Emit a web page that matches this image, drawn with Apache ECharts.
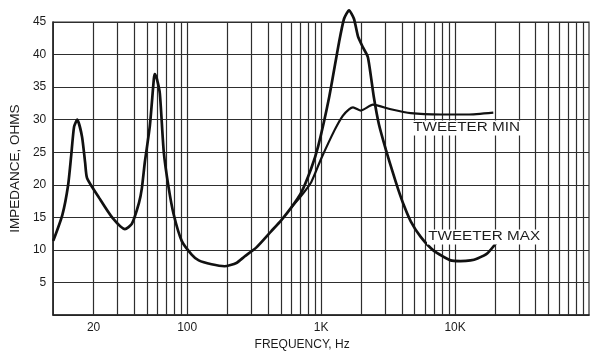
<!DOCTYPE html>
<html>
<head>
<meta charset="utf-8">
<script src="https://cdn.jsdelivr.net/npm/echarts@6/dist/echarts.min.js"></script>
<style>
html,body{margin:0;padding:0;background:#fff;}
#chart{width:591px;height:356px;}
</style>
</head>
<body>
<div id="chart"></div>
<script>
// Frequency (Hz) and impedance (ohms)
const freqMax = [10, 11.7, 12.9, 13.6, 14.3, 15.1, 16.4, 17.3, 17.9, 22, 27.5, 34.3, 38.6, 43.6, 45.9, 48.3, 52.6, 56.4, 57.3, 59.3, 62.5, 66.9, 72.8, 79.4, 91, 108, 122, 152, 190, 233, 268, 329, 425, 505, 598, 710, 843, 950, 1147, 1361, 1483, 1615, 1758, 1884, 2053, 2235, 2478, 2700, 3043, 3428, 3734, 4140, 4668, 5540, 6918, 9267, 11000, 13040, 14700, 17450, 20700];
const impMax = [11.4, 15.4, 19.9, 24.4, 28.9, 30.0, 27.4, 23.4, 21.0, 18.0, 15.0, 13.2, 14.0, 17.2, 19.5, 23.5, 29.0, 36.3, 37.0, 36.3, 34.0, 25.0, 19.5, 15.4, 11.4, 9.3, 8.4, 7.8, 7.5, 8.0, 9.0, 10.4, 12.9, 14.6, 16.5, 18.8, 22.5, 25.9, 33.4, 41.9, 45.5, 46.8, 45.5, 42.8, 41.1, 39.6, 33.4, 29.3, 25.4, 21.9, 19.5, 16.9, 14.4, 12.0, 9.9, 8.4, 8.3, 8.4, 8.7, 9.5, 11.3];
const freqMin = [598, 710, 843, 1000, 1260, 1450, 1615, 1730, 1984, 2435, 3315, 4668, 7800, 12380, 19300];
const impMin = [16.5, 18.3, 20.4, 24.0, 28.4, 30.6, 31.6, 31.9, 31.4, 32.3, 31.6, 31.0, 30.8, 30.8, 31.1];

const xLabelValues = [20, 100, 1000, 10000];
const xLabelTexts = ['20', '100', '1K', '10K'];
const gridMultipliers = [1, 2, 3, 4, 5, 6, 7, 8, 9];
const gridDecades = [10, 100, 1000, 10000];

const gridFreqs = [];
gridDecades.forEach(d => gridMultipliers.forEach(m => {
  const f = d * m;
  if (f > 10 && f < 100000) gridFreqs.push(f);
}));

const zip = (a, b) => a.map((v, i) => [v, b[i]]);
const FONT = '"Liberation Sans", Arial, sans-serif';
const INK = '#1c1c1c';

const chart = echarts.init(document.getElementById('chart'), null, {renderer: 'canvas'});
chart.setOption({
  animation: false,
  backgroundColor: '#ffffff',
  grid: {left: 51, right: 2, top: 22, bottom: 36, show: true, borderColor: '#2e2e2e', borderWidth: 1.2},
  xAxis: {
    type: 'log', logBase: 10, min: 10, max: 100000,
    axisLine: {show: true, lineStyle: {color: '#222', width: 1.6}},
    axisTick: {show: false},
    splitLine: {show: false},
    axisLabel: {
      customValues: xLabelValues,
      formatter: v => {
        const i = xLabelValues.findIndex(x => Math.abs(x - v) < 1e-6 * x);
        return i >= 0 ? xLabelTexts[i] : '';
      },
      margin: 7, color: INK, fontSize: 12, fontFamily: FONT
    },
    name: 'FREQUENCY, Hz', nameLocation: 'middle', nameGap: 21,
    nameTextStyle: {color: INK, fontSize: 12, fontFamily: FONT, padding: [0, 38, 0, 0]}
  },
  yAxis: {
    type: 'value', min: 0, max: 45, interval: 5,
    axisLine: {show: true, lineStyle: {color: '#222', width: 1.6}},
    axisTick: {show: false},
    splitLine: {show: true, lineStyle: {color: '#2e2e2e', width: 1.2}},
    axisLabel: {formatter: v => v === 0 ? '' : String(v), margin: 7, color: INK, fontSize: 12, fontFamily: FONT},
    name: 'IMPEDANCE, OHMS', nameLocation: 'middle', nameGap: 31,
    nameTextStyle: {color: INK, fontSize: 13.5, fontFamily: FONT}
  },
  series: [
    {
      type: 'line', name: 'grid', data: [], z: 1, silent: true,
      markLine: {
        silent: true, symbol: 'none', z: 1,
        label: {show: false},
        emphasis: {disabled: true},
        lineStyle: {color: '#2e2e2e', width: 1.2, type: 'solid'},
        data: gridFreqs.map(f => ({xAxis: f}))
      }
    },
    {
      type: 'line', name: 'TWEETER MAX', data: zip(freqMax, impMax), z: 3,
      showSymbol: false, smooth: 0.2, clip: false,
      lineStyle: {color: '#111', width: 2.7}
    },
    {
      type: 'line', name: 'TWEETER MIN', data: zip(freqMin, impMin), z: 3,
      showSymbol: false, smooth: 0.2, clip: false,
      lineStyle: {color: '#111', width: 2.2}
    }
  ],
  graphic: [
    {type: 'text', x: 412, y: 128, scaleX: 1.22, z: 10,
     style: {text: 'TWEETER MIN', fontSize: 12.5, fontFamily: FONT, fill: INK, align: 'left', verticalAlign: 'middle', backgroundColor: '#fff', padding: [1, 1]}},
    {type: 'text', x: 427, y: 237, scaleX: 1.22, z: 10,
     style: {text: 'TWEETER MAX', fontSize: 12.5, fontFamily: FONT, fill: INK, align: 'left', verticalAlign: 'middle', backgroundColor: '#fff', padding: [1, 1]}}
  ]
});
</script>
</body>
</html>
